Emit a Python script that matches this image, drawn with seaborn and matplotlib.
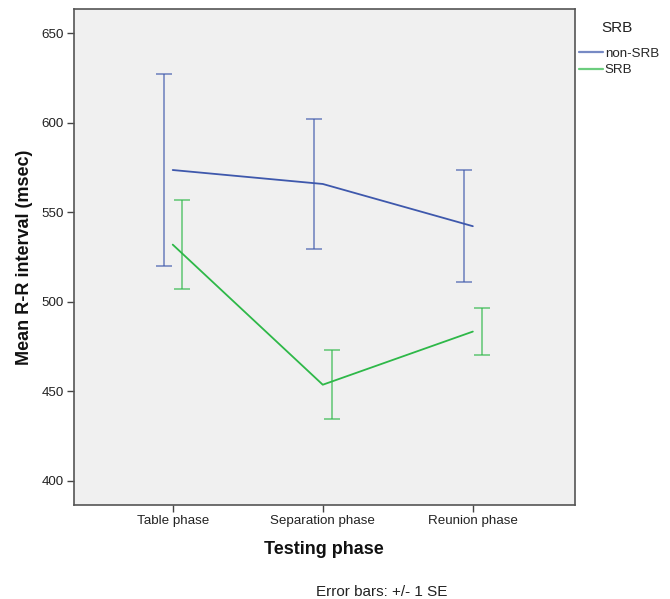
import matplotlib
matplotlib.use("Agg")
import matplotlib.pyplot as plt
import seaborn as sns
import pandas as pd
import numpy as np

# Mean R-R interval per testing phase, with +/- 1 SE
phases = ["Table phase", "Separation phase", "Reunion phase"]
groups = ["non-SRB", "SRB"]
mean_non_srb = [573.6, 565.8, 542.2]
se_non_srb = [53.7, 36.5, 31.3]
mean_srb = [531.9, 453.6, 483.3]
se_srb = [25.0, 19.3, 13.0]

colors = {"non-SRB": "#3E58AC", "SRB": "#2EB848"}

rows = []
for g, means, ses in [("non-SRB", mean_non_srb, se_non_srb), ("SRB", mean_srb, se_srb)]:
    for i, (p, m, s) in enumerate(zip(phases, means, ses)):
        rows.append({"phase": p, "pos": i, "SRB": g, "mean": m, "se": s})
df = pd.DataFrame(rows)

sns.set_theme(style="white")
plt.rcParams["font.family"] = ["Liberation Sans", "DejaVu Sans"]

fig = plt.figure(figsize=(6.70, 5.99), dpi=100)
ax = fig.add_axes([0.110, 0.157, 0.748, 0.828])
ax.set_facecolor("#F0F0F0")

sns.lineplot(data=df, x="pos", y="mean", hue="SRB", hue_order=groups,
             palette=colors, linewidth=1.3, ax=ax, legend=True)

# error bars drawn slightly offset from each phase position
offsets = {"non-SRB": -0.06, "SRB": 0.06}
for g in groups:
    sub = df[df["SRB"] == g]
    ax.errorbar(sub["pos"] + offsets[g], sub["mean"], yerr=sub["se"],
                fmt="none", ecolor=colors[g], elinewidth=1.1, capsize=6,
                capthick=1.1, alpha=0.75)

ax.set_xlim(-0.66, 2.68)
ax.set_ylim(386.4, 663.6)
ax.set_xticks(range(len(phases)))
ax.set_xticklabels(phases)
ax.set_yticks([400, 450, 500, 550, 600, 650])
ax.tick_params(axis="both", which="both", length=5, width=1, color="#444444",
               direction="out", labelsize=9.6, labelcolor="#222222",
               bottom=True, left=True, pad=2)
for s in ax.spines.values():
    s.set_color("#555555")
    s.set_linewidth(1.2)
    s.set_visible(True)

ax.set_xlabel("Testing phase", fontsize=13, fontweight="bold", labelpad=10,
              color="#111111")
ax.set_ylabel("Mean R-R interval (msec)", fontsize=13, fontweight="bold",
              labelpad=6, color="#111111")

# legend entries outside the plot, with the group title placed above them
leg = ax.legend(loc="upper left", bbox_to_anchor=(1.0, 0.930),
                frameon=False, fontsize=9.6,
                handlelength=1.8, handletextpad=0.15, borderaxespad=0.0,
                borderpad=0.3, labelspacing=0.3)
for line in leg.get_lines():
    line.set_linewidth(1.6)
    line.set_alpha(0.7)
fig.text(617 / 670, 1 - 28 / 599, "SRB", ha="center", va="center",
         fontsize=11, color="#222222")

fig.text(0.57, 0.0, "Error bars: +/- 1 SE", ha="center", va="bottom",
         fontsize=11, color="#222222")

fig.savefig("out.png", dpi=100)
